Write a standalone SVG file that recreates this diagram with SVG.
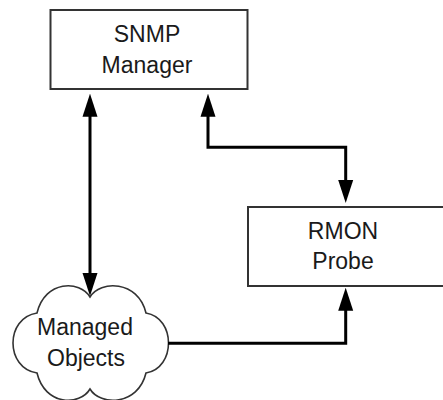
<svg xmlns="http://www.w3.org/2000/svg" width="443" height="400" viewBox="0 0 443 400">
  <style>
    .box { fill: #ffffff; stroke: #333333; stroke-width: 2; }
    .cloud { fill: #ffffff; stroke: #333333; stroke-width: 1.6; }
    .lbl { font-family: "Liberation Sans", Arial, sans-serif; font-size: 23px; fill: #1a1a1a; text-anchor: middle; }
    .conn { fill: none; stroke: #000000; stroke-width: 3; }
  </style>
  <defs>
    <marker id="arrow" viewBox="0 0 23 16" markerWidth="23" markerHeight="16" refX="1" refY="8" markerUnits="userSpaceOnUse" orient="auto-start-reverse">
      <path d="M0,0.5 L23,8 L0,15.5 z" fill="#000000"/>
    </marker>
  </defs>
  <rect width="443" height="400" fill="#ffffff"/>
  <g id="snmp-manager">
    <rect class="box" x="50.5" y="10" width="197" height="79"/>
    <text class="lbl" x="147" y="42">SNMP</text>
    <text class="lbl" x="147" y="73">Manager</text>
  </g>
  <g id="rmon-probe">
    <rect class="box" x="248" y="207" width="200" height="79"/>
    <text class="lbl" x="343" y="239">RMON</text>
    <text class="lbl" x="343" y="269">Probe</text>
  </g>
  <g id="managed-objects">
    <path class="cloud" d="M90,297 C80,280 45,280 37,313 C5,318 5,368 37,373 C45,406 80,406 90,389 C100,406 138,406 146,373 C176,368 176,318 146,313 C138,280 100,280 90,297 Z"/>
    <text class="lbl" x="85" y="335">Managed</text>
    <text class="lbl" x="86" y="366">Objects</text>
  </g>
  <g id="connectors">
    <path class="conn" d="M90,115.7 V274" marker-start="url(#arrow)" marker-end="url(#arrow)"/>
    <path class="conn" d="M208,115.7 V147.3 H345.7 V181" marker-start="url(#arrow)" marker-end="url(#arrow)"/>
    <path class="conn" d="M168,343.3 H345.7 V309.7" marker-end="url(#arrow)"/>
  </g>
</svg>
